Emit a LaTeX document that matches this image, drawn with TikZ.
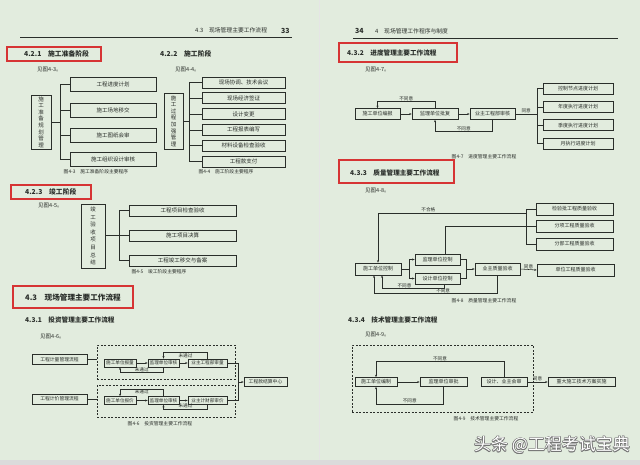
\documentclass[tikz,border=0pt]{standalone}
\usepackage{fontspec}
\setmainfont{Noto Sans CJK SC}
\usetikzlibrary{arrows.meta}

\definecolor{pagebg}{RGB}{226,236,222}
\definecolor{ink}{RGB}{42,46,42}
\definecolor{markred}{RGB}{214,52,52}
\newcommand{\sz}[1]{\fontsize{#1}{#1}\selectfont}

\begin{document}
\begin{tikzpicture}[x=1pt, y=-1pt,
    box/.style={draw=ink, line width=0.6pt, inner sep=0pt, text=ink, font=\sz{5.5}},
    vbox/.style={box, align=center},
    frame/.style={draw=ink, line width=0.5pt, dash pattern=on 2pt off 1.5pt, inner sep=0pt},
    txt/.style={anchor=base west, inner sep=0pt, text=ink},
    figcap/.style={inner sep=0pt, text=ink, font=\sz{4.8}},
    lbl/.style={inner sep=0.6pt, text=ink, font=\sz{4.6}},
    conn/.style={draw=ink, line width=0.55pt},
    arr/.style={conn, -{Stealth[length=2.5pt, width=2pt]}},
    redmark/.style={draw=markred, line width=1.2pt}]
    \useasboundingbox (0,0) rectangle (640,465);
    \fill[pagebg] (0,0) rectangle (640,465);
    \draw[black!10, line width=1pt] (319,0) -- (319,460);
    \fill[black!14] (0,460) rectangle (640,465);

    % left page
    \node[txt, font=\sz{5.8}] (hdl) at (195,33) {4.3\quad 现场管理主要工作流程};
    \node[txt, font=\sz{7}\bfseries] (pgl) at (281,33.5) {33};
    \draw[conn] (20,37.5) -- (292,37.5);

    \draw[redmark] (7,47) rectangle (101,61);
    \node[txt, font=\sz{6.8}\bfseries] (s421) at (24,56.5) {4.2.1\quad 施工准备阶段};
    \node[txt, font=\sz{6.8}\bfseries] (s422) at (160,56.5) {4.2.2\quad 施工阶段};
    \node[txt, font=\sz{5.5}] (r43) at (37,72) {见图4-3。};
    \node[txt, font=\sz{5.5}] (r44) at (175,72) {见图4-4。};

    % fig 4-3
    \node[vbox, font=\fontsize{5.5}{6.6}\selectfont, minimum width=20, minimum height=54] (zb) at (41,122)
        {施\\工\\准\\备\\规\\划\\管\\理};
    \foreach \y/\t [count=\i] in {84.5/工程进度计划, 110/施工场地移交, 135/施工图纸会审, 159.5/施工组织设计审核}
        \node[box, minimum width=86, minimum height=14] (zb\i) at (113,\y) {\t};
    \coordinate (zbk) at (60,122);
    \draw[conn] (zb.east) -- (zbk);
    \draw[conn] (zbk |- zb1) -- (zbk |- zb4);
    \foreach \i in {1,...,4}
        \draw[conn] (zbk |- zb\i) -- (zb\i.west);
    \node[figcap] (c43) at (96,172) {图4-3\quad 施工准备阶段主要程序};

    % fig 4-4
    \node[vbox, font=\fontsize{5.5}{6.6}\selectfont, minimum width=19, minimum height=56] (sg) at (173.5,121)
        {施\\工\\过\\程\\加\\强\\管\\理};
    \foreach \y/\t [count=\i] in {82.5/现场协调、技术会议, 98.3/现场经济签证, 114.1/设计变更,
                                  129.9/工程报表编写, 145.7/材料设备检查验收, 161.5/工程款支付}
        \node[box, minimum width=83, minimum height=11] (sg\i) at (243.5,\y) {\t};
    \coordinate (sgk) at (189,121);
    \draw[conn] (sg.east) -- (sgk);
    \draw[conn] (sgk |- sg1) -- (sgk |- sg6);
    \foreach \i in {1,...,6}
        \draw[conn] (sgk |- sg\i) -- (sg\i.west);
    \node[figcap] (c44) at (226,172) {图4-4\quad 施工阶段主要程序};

    % 4.2.3
    \draw[redmark] (11,185) rectangle (91,199);
    \node[txt, font=\sz{6.8}\bfseries] (s423) at (25,194.5) {4.2.3\quad 竣工阶段};
    \node[txt, font=\sz{5.5}] (r45) at (38,208) {见图4-5。};

    % fig 4-5
    \node[vbox, font=\fontsize{5.5}{7.6}\selectfont, minimum width=24, minimum height=64] (jg) at (93,236)
        {竣\\工\\验\\收\\项\\目\\总\\结};
    \foreach \y/\t [count=\i] in {210.5/工程项目检查验收, 235.5/施工项目决算, 260.5/工程竣工移交与备案}
        \node[box, minimum width=107, minimum height=11] (jg\i) at (182.5,\y) {\t};
    \coordinate (jgk) at (119,235.5);
    \draw[conn] (jg.east |- jgk) -- (jgk);
    \draw[conn] (jgk |- jg1) -- (jgk |- jg3);
    \foreach \i in {1,...,3}
        \draw[conn] (jgk |- jg\i) -- (jg\i.west);
    \node[figcap] (c45) at (159,272) {图4-5\quad 竣工阶段主要程序};

    % 4.3
    \draw[redmark] (13,286) rectangle (133,308);
    \node[txt, font=\sz{7.6}\bfseries] (s43) at (25,300.5) {4.3\quad 现场管理主要工作流程};
    \node[txt, font=\sz{6.6}\bfseries] (s431) at (25,322) {4.3.1\quad 投资管理主要工作流程};
    \node[txt, font=\sz{5.5}] (r46) at (40,338.5) {见图4-6。};

    % fig 4-6
    \node[frame, minimum width=138, minimum height=34] (frA) at (166,362) {};
    \node[frame, minimum width=138, minimum height=32] (frB) at (166,401) {};
    \node[box, font=\sz{4.8}, minimum width=55, minimum height=10] (gcA) at (59.5,359.5) {工程计量管理流程};
    \node[box, font=\sz{4.8}, minimum width=55, minimum height=10] (gcB) at (59.5,399) {工程计价管理流程};
    \node[box, font=\sz{4.6}, minimum width=32, minimum height=8] (sgA) at (120,363) {施工单位报量};
    \node[box, font=\sz{4.6}, minimum width=31, minimum height=8] (jlA) at (163.5,363) {监理单位审核};
    \node[box, font=\sz{4.6}, minimum width=39, minimum height=8] (yzA) at (207.5,363) {业主工程部审量};
    \node[box, font=\sz{4.6}, minimum width=32, minimum height=8] (sgB) at (120,400.5) {施工单位报价};
    \node[box, font=\sz{4.6}, minimum width=31, minimum height=8] (jlB) at (163.5,400.5) {监理单位审核};
    \node[box, font=\sz{4.6}, minimum width=39, minimum height=8] (yzB) at (207.5,400.5) {业主计财部审价};
    \node[box, font=\sz{4.8}, minimum width=43, minimum height=9] (js) at (265.5,382) {工程款结算中心};
    \draw[conn] (gcA.east) -- (frA.west |- gcA.east);
    \draw[conn] (gcB.east) -- (frB.west |- gcB.east);
    \draw[arr] (sgA) -- (jlA);
    \draw[arr] (jlA) -- (yzA);
    \draw[arr] (sgB) -- (jlB);
    \draw[arr] (jlB) -- (yzB);
    \draw[arr] (yzA.north) -- ++(0,-6) -| (jlA.north) node[lbl, pos=0.25, below] {未通过};
    \draw[arr] (jlA.south) -- ++(0,5) -| (sgA.south) node[lbl, pos=0.25, above] {未通过};
    \draw[arr] (jlB.north) -- ++(0,-7) -| (sgB.north) node[lbl, pos=0.25, below] {未通过};
    \draw[arr] (yzB.south) -- ++(0,4) -| (jlB.south) node[lbl, pos=0.25, above] {未通过};
    \coordinate (jsk) at (238,382);
    \draw[conn] (yzA.east) -| (jsk);
    \draw[conn] (yzB.east) -| (jsk);
    \draw[arr] (jsk) -- (js.west);
    \node[figcap] (c46) at (160,424) {图4-6\quad 投资管理主要工作流程};

    % right page
    \node[txt, font=\sz{7}\bfseries] (pgr) at (355,34) {34};
    \node[txt, font=\sz{5.8}] (hdr) at (375,34) {4\quad 现场管理工作程序与制度};
    \draw[conn] (353,38.5) -- (618,38.5);

    \draw[redmark] (339,43) rectangle (457,62);
    \node[txt, font=\sz{6.6}\bfseries] (s432) at (347,55.5) {4.3.2\quad 进度管理主要工作流程};
    \node[txt, font=\sz{5.5}] (r47) at (365,72) {见图4-7。};

    % fig 4-7
    \node[box, font=\sz{5}, minimum width=45, minimum height=11] (sgC) at (377.5,114) {施工单位编报};
    \node[box, font=\sz{5}, minimum width=46, minimum height=11] (jlC) at (435,114) {监理单位批复};
    \node[box, font=\sz{5}, minimum width=45, minimum height=11] (yzC) at (492.5,114) {业主工程部审核};
    \foreach \y/\t [count=\i] in {88.5/控制节点进度计划, 106.8/年度执行进度计划, 125.1/季度执行进度计划, 143.4/月执行进度计划}
        \node[box, font=\sz{5}, minimum width=70, minimum height=11] (jd\i) at (578,\y) {\t};
    \coordinate (jdk) at (537,114);
    \draw[arr] (sgC) -- (jlC);
    \draw[arr] (jlC) -- (yzC);
    \draw[conn] (yzC.east) -- (jdk) node[lbl, midway, above] {同意};
    \draw[conn] (jdk |- jd1) -- (jdk |- jd4);
    \foreach \i in {1,...,4}
        \draw[conn] (jdk |- jd\i) -- (jd\i.west);
    \draw[arr] (jlC.north) -- ++(0,-6.5) -| (sgC.north) node[lbl, pos=0.25, above] {不同意};
    \draw[arr] (yzC.south) -- ++(0,11.5) -| (jlC.south) node[lbl, pos=0.25, above] {不同意};
    \node[figcap] (c47) at (484,157) {图4-7\quad 进度管理主要工作流程};

    \draw[redmark] (339,160) rectangle (454,183);
    \node[txt, font=\sz{6.6}\bfseries] (s433) at (350,176) {4.3.3\quad 质量管理主要工作流程};
    \node[txt, font=\sz{5.5}] (r48) at (365,192.5) {见图4-8。};

    % fig 4-8
    \foreach \y/\t [count=\i] in {209/检验批工程质量验收, 226/分项工程质量验收, 244/分部工程质量验收}
        \node[box, font=\sz{5}, minimum width=77, minimum height=12] (zl\i) at (574.5,\y) {\t};
    \node[box, font=\sz{5}, minimum width=77, minimum height=12] (dw) at (575.5,270) {单位工程质量验收};
    \node[box, font=\sz{5}, minimum width=46, minimum height=12] (sgD) at (378,269) {施工单位控制};
    \node[box, font=\sz{5}, minimum width=45, minimum height=11] (jlD) at (437.5,259.5) {监理单位控制};
    \node[box, font=\sz{5}, minimum width=45, minimum height=11] (sjD) at (437.5,278.5) {设计单位控制};
    \node[box, font=\sz{5}, minimum width=45, minimum height=12] (yzD) at (497.5,269) {业主质量验收};
    \coordinate (zlk) at (526,226);
    \coordinate (bhg) at (526,213);
    \draw[conn] (zlk |- zl1) -- (zlk |- zl3);
    \foreach \i in {1,...,3}
        \draw[conn] (zlk |- zl\i) -- (zl\i.west);
    \draw[conn] ([xshift=8pt]jlD.north) |- (zlk);
    \draw[arr] (bhg) -| (sgD.north) node[lbl, pos=0.33, above] {不合格};
    \coordinate (fkA) at (409,269);
    \coordinate (fkB) at (466,269);
    \draw[conn] (sgD.east) -- (fkA);
    \draw[arr] (fkA) |- (jlD.west);
    \draw[arr] (fkA) |- (sjD.west);
    \draw[conn] (jlD.east) -| (fkB);
    \draw[conn] (sjD.east) -| (fkB);
    \draw[arr] (fkB) -- (yzD.west);
    \draw[arr] (yzD.east) -- (dw.west) node[lbl, midway, above] {同意};
    \draw[arr] ([xshift=7pt]sjD.south) -- ++(0,4) -| ([xshift=4pt]sgD.south) node[lbl, pos=0.32, above] {不同意};
    \draw[arr] (yzD.south) -- ++(0,18) -| ([xshift=-4pt]sgD.south) node[lbl, pos=0.22, above] {不同意};
    \node[figcap] (c48) at (484,301) {图4-8\quad 质量管理主要工作流程};

    \node[txt, font=\sz{6.6}\bfseries] (s434) at (348,322) {4.3.4\quad 技术管理主要工作流程};
    \node[txt, font=\sz{5.5}] (r49) at (365,336) {见图4-9。};

    % fig 4-9
    \node[frame, minimum width=181, minimum height=67] (frC) at (442.5,378.5) {};
    \node[box, font=\sz{5}, minimum width=42, minimum height=9] (sgE) at (376,382) {施工单位编制};
    \node[box, font=\sz{5}, minimum width=47, minimum height=9] (jlE) at (443.5,382) {监理单位审批};
    \node[box, font=\sz{5}, minimum width=46, minimum height=9] (hsE) at (504,382) {设计、业主会审};
    \node[box, font=\sz{5}, minimum width=67, minimum height=9] (ssE) at (581.5,382) {重大施工技术方案实施};
    \draw[arr] (sgE) -- (jlE);
    \draw[arr] (hsE) -- (ssE) node[lbl, midway, above] {同意};
    \draw[arr] (hsE.north) -- ++(0,-15.5) -| (sgE.north) node[lbl, pos=0.25, above] {不同意};
    \draw[arr] (jlE.south) -- ++(0,17) -| (sgE.south) node[lbl, pos=0.25, above] {不同意};
    \node[figcap] (c49) at (486,419) {图4-9\quad 技术管理主要工作流程};

    % watermark
    \coordinate (wm) at (552,445);
    \foreach \dx/\dy [count=\k] in {-0.7/0, 0.7/0, 0/-0.7, 0/0.7, -0.5/-0.5, 0.5/0.5, -0.5/0.5, 0.5/-0.5}
        \node[inner sep=0pt, font=\sz{17}, text=black!55] (wms\k) at ([xshift=\dx pt, yshift=\dy pt]wm) {头条 @工程考试宝典};
    \node[inner sep=0pt, font=\sz{17}, text=white] (wmt) at (wm) {头条 @工程考试宝典};
\end{tikzpicture}
\end{document}
